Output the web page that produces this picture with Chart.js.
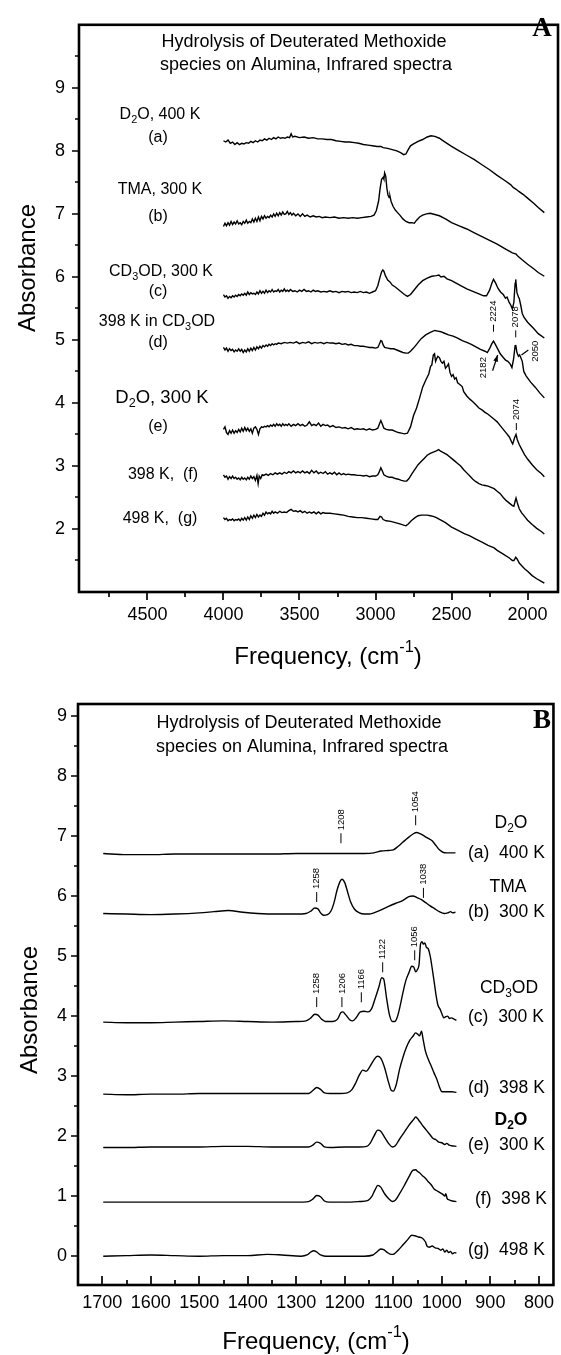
<!DOCTYPE html>
<html>
<head>
<meta charset="utf-8">
<script src="https://cdn.jsdelivr.net/npm/chart.js@4.4.0/dist/chart.umd.min.js"></script>
<style>
  html, body { margin: 0; padding: 0; background: #fff; }
  canvas { position: absolute; left: 0; }
  #chartA { top: 0; }
  #chartB { top: 680px; }
</style>
</head>
<body>
<canvas id="chartA" width="561" height="680"></canvas>
<canvas id="chartB" width="561" height="675"></canvas>
<script>
const FONT = '"Liberation Sans", Arial, Helvetica, sans-serif';
const SERIF = '"Liberation Serif", "Times New Roman", serif';

// ---- panel A: high frequency region, [frequency cm-1, absorbance] ----
const specA_a = [[4000,8.16],[3985,8.14],[3970,8.17],[3955,8.12],[3940,8.14],[3925,8.10],[3910,8.13],[3895,8.10],[3880,8.12],[3865,8.11],[3850,8.13],[3835,8.12],[3820,8.15],[3805,8.13],[3790,8.16],[3775,8.14],[3760,8.17],[3745,8.16],[3730,8.19],[3715,8.17],[3700,8.20],[3685,8.18],[3670,8.21],[3655,8.19],[3640,8.22],[3625,8.20],[3610,8.21],[3595,8.20],[3580,8.22],[3565,8.21],[3555,8.27],[3545,8.22],[3530,8.23],[3500,8.21],[3470,8.22],[3440,8.20],[3410,8.21],[3380,8.19],[3350,8.19],[3320,8.18],[3290,8.18],[3260,8.16],[3230,8.15],[3200,8.14],[3170,8.14],[3140,8.13],[3110,8.12],[3080,8.10],[3050,8.09],[3020,8.08],[2990,8.07],[2965,8.07],[2950,8.05],[2920,8.04],[2890,8.02],[2860,8.00],[2835,7.97],[2815,7.94],[2800,7.95],[2785,8.02],[2770,8.08],[2750,8.11],[2720,8.15],[2690,8.18],[2660,8.22],[2635,8.24],[2610,8.23],[2580,8.20],[2550,8.15],[2500,8.07],[2450,8.00],[2400,7.93],[2350,7.86],[2300,7.78],[2250,7.70],[2200,7.61],[2150,7.53],[2110,7.46],[2095,7.42],[2075,7.39],[2060,7.36],[2030,7.31],[2000,7.25],[1960,7.17],[1930,7.10],[1890,7.02]];
const specA_b = [[4000,6.80],[3990,6.85],[3980,6.81],[3970,6.86],[3960,6.82],[3950,6.88],[3940,6.83],[3930,6.87],[3920,6.84],[3910,6.89],[3900,6.84],[3890,6.86],[3880,6.83],[3870,6.88],[3860,6.85],[3850,6.90],[3840,6.85],[3830,6.88],[3820,6.86],[3810,6.92],[3800,6.87],[3790,6.93],[3780,6.88],[3770,6.95],[3760,6.89],[3750,6.96],[3740,6.92],[3730,6.97],[3720,6.93],[3710,6.96],[3700,6.94],[3690,6.98],[3680,6.95],[3670,7.00],[3660,6.96],[3650,7.01],[3640,6.97],[3630,7.02],[3620,6.98],[3610,7.03],[3600,6.99],[3590,7.00],[3580,7.04],[3570,6.99],[3560,7.02],[3550,6.98],[3540,7.01],[3525,6.97],[3510,7.00],[3495,6.96],[3480,7.00],[3465,6.96],[3450,6.98],[3430,6.95],[3410,6.97],[3390,6.95],[3370,6.96],[3350,6.94],[3330,6.95],[3300,6.94],[3270,6.95],[3240,6.93],[3210,6.94],[3180,6.93],[3150,6.94],[3120,6.93],[3090,6.94],[3060,6.95],[3030,6.96],[3010,6.98],[2995,7.05],[2980,7.20],[2970,7.40],[2960,7.55],[2950,7.58],[2945,7.55],[2940,7.65],[2933,7.60],[2925,7.40],[2918,7.30],[2910,7.26],[2905,7.28],[2898,7.20],[2885,7.12],[2870,7.06],[2855,7.02],[2840,6.98],[2820,6.92],[2800,6.88],[2780,6.86],[2760,6.86],[2745,6.85],[2730,6.90],[2710,6.95],[2690,6.98],[2665,7.00],[2640,7.01],[2610,6.99],[2580,6.97],[2540,6.92],[2500,6.86],[2450,6.81],[2400,6.76],[2350,6.70],[2300,6.64],[2250,6.58],[2200,6.52],[2150,6.45],[2100,6.38],[2075,6.36],[2065,6.33],[2030,6.26],[2000,6.20],[1960,6.13],[1930,6.07],[1890,6.01]];
const specA_c = [[4000,5.72],[3990,5.68],[3980,5.70],[3970,5.66],[3960,5.69],[3950,5.67],[3940,5.70],[3930,5.68],[3920,5.71],[3910,5.69],[3900,5.72],[3890,5.70],[3880,5.73],[3870,5.71],[3860,5.74],[3850,5.71],[3840,5.76],[3830,5.72],[3820,5.75],[3810,5.73],[3800,5.74],[3790,5.72],[3780,5.76],[3770,5.73],[3760,5.78],[3750,5.74],[3740,5.77],[3730,5.74],[3720,5.79],[3710,5.75],[3700,5.78],[3690,5.76],[3680,5.80],[3670,5.76],[3660,5.78],[3650,5.77],[3640,5.80],[3630,5.76],[3620,5.79],[3610,5.77],[3600,5.81],[3590,5.77],[3580,5.79],[3570,5.77],[3560,5.80],[3545,5.77],[3530,5.78],[3515,5.76],[3500,5.79],[3485,5.77],[3470,5.80],[3455,5.77],[3440,5.78],[3425,5.76],[3410,5.79],[3395,5.77],[3380,5.78],[3360,5.76],[3340,5.77],[3320,5.76],[3300,5.78],[3280,5.76],[3260,5.77],[3240,5.75],[3220,5.77],[3200,5.76],[3180,5.77],[3160,5.75],[3140,5.76],[3120,5.75],[3100,5.77],[3080,5.75],[3060,5.76],[3040,5.74],[3020,5.76],[3000,5.78],[2985,5.86],[2970,6.00],[2960,6.08],[2952,6.11],[2945,6.09],[2935,6.02],[2920,5.95],[2905,5.92],[2890,5.87],[2870,5.84],[2850,5.80],[2830,5.76],[2810,5.72],[2790,5.69],[2770,5.72],[2750,5.78],[2720,5.87],[2690,5.94],[2660,5.98],[2630,6.01],[2600,6.02],[2583,6.03],[2570,6.00],[2550,6.01],[2530,5.97],[2500,5.94],[2470,5.90],[2440,5.86],[2400,5.81],[2360,5.77],[2320,5.73],[2290,5.70],[2270,5.70],[2250,5.79],[2235,5.90],[2224,5.96],[2210,5.90],[2195,5.82],[2178,5.76],[2160,5.72],[2145,5.66],[2135,5.68],[2122,5.60],[2110,5.55],[2100,5.49],[2090,5.60],[2082,5.90],[2078,5.96],[2070,5.75],[2060,5.68],[2055,5.66],[2045,5.55],[2035,5.42],[2024,5.36],[2000,5.28],[1960,5.18],[1930,5.10],[1890,5.03]];
const specA_d = [[4000,4.88],[3990,4.84],[3980,4.87],[3970,4.82],[3960,4.86],[3950,4.83],[3940,4.85],[3930,4.81],[3920,4.84],[3910,4.82],[3900,4.86],[3890,4.82],[3880,4.85],[3870,4.80],[3860,4.84],[3850,4.81],[3840,4.86],[3830,4.82],[3820,4.87],[3810,4.83],[3800,4.88],[3790,4.84],[3780,4.89],[3770,4.86],[3760,4.90],[3750,4.87],[3740,4.91],[3730,4.89],[3720,4.92],[3710,4.90],[3700,4.93],[3690,4.91],[3680,4.94],[3670,4.92],[3660,4.94],[3650,4.93],[3640,4.95],[3620,4.94],[3600,4.96],[3580,4.95],[3560,4.96],[3540,4.95],[3520,4.97],[3500,4.94],[3480,4.96],[3460,4.95],[3440,4.97],[3420,4.94],[3400,4.96],[3380,4.95],[3360,4.96],[3340,4.94],[3320,4.96],[3300,4.95],[3280,4.95],[3260,4.94],[3240,4.95],[3220,4.93],[3200,4.94],[3180,4.92],[3160,4.93],[3140,4.91],[3120,4.91],[3100,4.90],[3080,4.90],[3060,4.89],[3040,4.88],[3020,4.88],[3000,4.87],[2985,4.88],[2975,4.93],[2965,4.99],[2958,4.98],[2950,4.92],[2940,4.88],[2920,4.87],[2900,4.86],[2880,4.86],[2860,4.84],[2840,4.82],[2820,4.80],[2800,4.79],[2785,4.79],[2770,4.82],[2750,4.87],[2730,4.93],[2700,5.02],[2670,5.08],[2640,5.12],[2610,5.15],[2590,5.14],[2570,5.13],[2550,5.11],[2520,5.08],[2490,5.06],[2460,5.03],[2430,4.99],[2400,4.96],[2370,4.93],[2340,4.89],[2310,4.85],[2280,4.82],[2265,4.80],[2250,4.86],[2235,4.94],[2224,4.98],[2212,4.93],[2195,4.85],[2180,4.78],[2160,4.72],[2145,4.68],[2130,4.66],[2115,4.62],[2103,4.56],[2092,4.70],[2082,4.91],[2078,4.92],[2070,4.80],[2060,4.74],[2052,4.76],[2045,4.72],[2035,4.66],[2025,4.50],[2010,4.43],[1980,4.33],[1950,4.25],[1920,4.16],[1890,4.08]];
const specA_e = [[4000,3.58],[3990,3.62],[3980,3.53],[3970,3.50],[3960,3.56],[3950,3.52],[3940,3.57],[3930,3.52],[3920,3.56],[3910,3.53],[3900,3.58],[3890,3.54],[3880,3.60],[3870,3.55],[3860,3.61],[3850,3.56],[3840,3.60],[3830,3.55],[3820,3.59],[3810,3.52],[3800,3.60],[3790,3.62],[3780,3.58],[3770,3.50],[3760,3.59],[3750,3.62],[3740,3.61],[3730,3.63],[3720,3.62],[3710,3.64],[3700,3.62],[3690,3.65],[3680,3.63],[3670,3.66],[3660,3.63],[3650,3.67],[3640,3.64],[3630,3.66],[3620,3.63],[3610,3.67],[3600,3.64],[3590,3.66],[3580,3.64],[3570,3.67],[3555,3.63],[3540,3.66],[3525,3.64],[3510,3.67],[3495,3.64],[3480,3.66],[3465,3.63],[3450,3.65],[3435,3.70],[3420,3.64],[3405,3.66],[3390,3.64],[3375,3.68],[3360,3.63],[3345,3.66],[3330,3.64],[3315,3.65],[3300,3.62],[3280,3.64],[3260,3.61],[3240,3.62],[3220,3.60],[3200,3.61],[3180,3.59],[3160,3.61],[3140,3.58],[3120,3.59],[3100,3.58],[3080,3.59],[3060,3.57],[3040,3.59],[3020,3.57],[3000,3.58],[2985,3.60],[2975,3.66],[2965,3.72],[2955,3.66],[2945,3.60],[2930,3.58],[2910,3.57],[2890,3.57],[2870,3.55],[2850,3.53],[2830,3.52],[2810,3.51],[2790,3.52],[2770,3.62],[2750,3.80],[2730,3.92],[2710,4.08],[2690,4.25],[2670,4.36],[2650,4.46],[2638,4.58],[2630,4.60],[2620,4.76],[2612,4.78],[2605,4.66],[2598,4.70],[2590,4.74],[2580,4.72],[2570,4.66],[2560,4.63],[2550,4.66],[2540,4.55],[2530,4.58],[2520,4.62],[2510,4.48],[2500,4.42],[2490,4.45],[2480,4.38],[2470,4.40],[2460,4.32],[2450,4.30],[2440,4.28],[2430,4.26],[2420,4.18],[2400,4.11],[2380,4.06],[2360,4.02],[2340,3.97],[2320,3.92],[2300,3.89],[2280,3.85],[2260,3.82],[2240,3.78],[2220,3.74],[2200,3.70],[2180,3.64],[2160,3.58],[2140,3.52],[2120,3.46],[2105,3.38],[2098,3.35],[2085,3.45],[2076,3.50],[2068,3.42],[2055,3.34],[2040,3.27],[2020,3.18],[2000,3.11],[1970,3.02],[1940,2.94],[1910,2.88],[1890,2.83]];
const specA_f = [[4000,2.86],[3990,2.82],[3980,2.84],[3970,2.79],[3960,2.83],[3950,2.80],[3940,2.84],[3930,2.80],[3920,2.82],[3910,2.79],[3900,2.81],[3890,2.78],[3880,2.82],[3870,2.79],[3860,2.81],[3850,2.78],[3840,2.82],[3830,2.79],[3820,2.84],[3810,2.80],[3800,2.83],[3790,2.77],[3780,2.85],[3772,2.72],[3765,2.84],[3755,2.80],[3745,2.86],[3735,2.85],[3720,2.87],[3705,2.85],[3690,2.88],[3675,2.86],[3660,2.89],[3645,2.87],[3630,2.89],[3615,2.87],[3600,2.90],[3585,2.88],[3570,2.91],[3555,2.89],[3540,2.92],[3525,2.89],[3510,2.91],[3495,2.89],[3480,2.92],[3465,2.89],[3450,2.91],[3435,2.88],[3420,2.93],[3405,2.89],[3390,2.92],[3375,2.88],[3360,2.90],[3345,2.88],[3330,2.91],[3315,2.87],[3300,2.89],[3285,2.87],[3270,2.90],[3255,2.86],[3240,2.89],[3225,2.86],[3210,2.88],[3195,2.86],[3180,2.87],[3160,2.86],[3140,2.86],[3120,2.85],[3100,2.85],[3080,2.84],[3060,2.85],[3040,2.83],[3020,2.84],[3000,2.84],[2985,2.86],[2975,2.91],[2965,2.97],[2955,2.92],[2945,2.86],[2930,2.84],[2910,2.82],[2890,2.82],[2870,2.80],[2850,2.79],[2830,2.77],[2810,2.76],[2795,2.76],[2780,2.80],[2760,2.88],[2740,2.95],[2720,3.02],[2700,3.07],[2680,3.12],[2660,3.17],[2640,3.20],[2620,3.22],[2600,3.24],[2585,3.26],[2575,3.24],[2560,3.22],[2545,3.20],[2530,3.18],[2515,3.15],[2500,3.12],[2480,3.08],[2460,3.04],[2440,3.00],[2420,2.94],[2400,2.89],[2380,2.84],[2360,2.79],[2340,2.75],[2320,2.72],[2300,2.70],[2280,2.69],[2260,2.68],[2240,2.66],[2220,2.64],[2200,2.60],[2180,2.56],[2160,2.50],[2140,2.45],[2120,2.41],[2100,2.37],[2090,2.36],[2082,2.44],[2076,2.49],[2068,2.42],[2055,2.32],[2040,2.26],[2020,2.20],[2000,2.14],[1970,2.07],[1940,2.01],[1910,1.96],[1890,1.92]];
const specA_g = [[4000,2.18],[3990,2.15],[3980,2.17],[3970,2.13],[3960,2.15],[3950,2.14],[3940,2.16],[3930,2.13],[3920,2.15],[3910,2.14],[3900,2.16],[3890,2.13],[3880,2.17],[3870,2.14],[3860,2.18],[3850,2.14],[3840,2.19],[3830,2.15],[3820,2.21],[3810,2.17],[3800,2.22],[3790,2.18],[3780,2.23],[3770,2.19],[3760,2.22],[3750,2.20],[3740,2.25],[3730,2.22],[3720,2.27],[3710,2.24],[3700,2.26],[3690,2.24],[3680,2.28],[3670,2.25],[3660,2.27],[3645,2.25],[3630,2.28],[3615,2.26],[3600,2.27],[3585,2.26],[3570,2.29],[3555,2.31],[3540,2.28],[3525,2.29],[3510,2.27],[3495,2.29],[3480,2.26],[3465,2.28],[3450,2.25],[3435,2.27],[3420,2.25],[3405,2.27],[3390,2.24],[3375,2.27],[3360,2.24],[3345,2.26],[3330,2.25],[3300,2.25],[3270,2.24],[3240,2.23],[3210,2.22],[3180,2.20],[3150,2.19],[3120,2.18],[3090,2.18],[3060,2.17],[3030,2.16],[3000,2.15],[2985,2.15],[2970,2.20],[2960,2.19],[2950,2.15],[2930,2.13],[2900,2.12],[2870,2.10],[2840,2.08],[2815,2.06],[2800,2.05],[2785,2.08],[2765,2.13],[2740,2.18],[2720,2.21],[2700,2.22],[2680,2.22],[2660,2.22],[2640,2.21],[2620,2.20],[2600,2.18],[2570,2.14],[2540,2.10],[2500,2.03],[2460,1.98],[2420,1.93],[2380,1.89],[2340,1.84],[2300,1.79],[2260,1.74],[2240,1.72],[2220,1.70],[2200,1.66],[2160,1.60],[2120,1.54],[2100,1.50],[2090,1.50],[2078,1.55],[2068,1.52],[2055,1.46],[2040,1.42],[2020,1.37],[2000,1.33],[1970,1.26],[1940,1.21],[1910,1.17],[1890,1.14]];

// ---- panel B: low frequency region ----
const specB_a = [[1698,6.71],[1650,6.69],[1600,6.69],[1550,6.70],[1500,6.70],[1450,6.70],[1400,6.70],[1350,6.70],[1300,6.71],[1250,6.71],[1200,6.71],[1160,6.71],[1140,6.72],[1125,6.75],[1110,6.76],[1100,6.77],[1090,6.83],[1080,6.90],[1070,6.97],[1060,7.03],[1052,7.06],[1045,7.04],[1036,7.00],[1028,6.96],[1020,6.92],[1012,6.84],[1005,6.77],[998,6.73],[990,6.72],[980,6.72],[972,6.72]];
const specB_b = [[1698,5.71],[1650,5.70],[1600,5.69],[1550,5.70],[1500,5.72],[1470,5.74],[1440,5.76],[1410,5.73],[1380,5.71],[1340,5.70],[1300,5.70],[1280,5.71],[1270,5.75],[1262,5.80],[1256,5.79],[1250,5.72],[1244,5.68],[1236,5.69],[1228,5.76],[1222,5.90],[1216,6.10],[1210,6.24],[1206,6.28],[1200,6.22],[1194,6.06],[1188,5.90],[1180,5.78],[1170,5.72],[1160,5.70],[1150,5.70],[1140,5.72],[1125,5.77],[1110,5.83],[1095,5.88],[1080,5.93],[1068,5.99],[1060,6.00],[1050,5.97],[1042,5.94],[1035,5.90],[1025,5.84],[1015,5.79],[1005,5.74],[995,5.71],[988,5.72],[982,5.74],[978,5.72],[972,5.73]];
const specB_c = [[1698,3.90],[1650,3.89],[1600,3.89],[1550,3.90],[1500,3.91],[1450,3.92],[1400,3.91],[1350,3.90],[1300,3.91],[1280,3.92],[1270,3.97],[1262,4.03],[1256,4.02],[1248,3.95],[1240,3.91],[1225,3.91],[1215,3.95],[1208,4.06],[1204,4.07],[1198,4.02],[1190,3.94],[1184,3.92],[1176,3.98],[1168,4.07],[1160,4.08],[1152,4.07],[1145,4.12],[1138,4.28],[1130,4.48],[1124,4.64],[1120,4.62],[1114,4.30],[1108,4.02],[1102,3.91],[1097,3.91],[1092,3.98],[1086,4.17],[1080,4.40],[1074,4.60],[1068,4.72],[1062,4.83],[1058,4.82],[1054,4.74],[1050,4.78],[1047,4.86],[1044,5.20],[1041,5.24],[1038,5.20],[1035,5.22],[1032,5.15],[1028,5.12],[1024,5.00],[1020,4.80],[1016,4.58],[1012,4.35],[1008,4.18],[1004,4.12],[1000,4.04],[996,3.97],[992,3.99],[988,4.00],[984,3.96],[980,3.97],[975,3.95],[970,3.93]];
const specB_d = [[1698,2.70],[1650,2.69],[1600,2.70],[1550,2.70],[1500,2.71],[1450,2.71],[1400,2.71],[1350,2.71],[1300,2.71],[1275,2.71],[1266,2.76],[1258,2.81],[1250,2.78],[1242,2.72],[1230,2.71],[1210,2.71],[1195,2.72],[1185,2.78],[1178,2.88],[1170,3.02],[1163,3.10],[1156,3.08],[1149,3.15],[1140,3.27],[1133,3.33],[1126,3.30],[1118,3.14],[1110,2.90],[1104,2.76],[1100,2.75],[1094,2.86],[1087,3.12],[1080,3.32],[1073,3.48],[1066,3.60],[1060,3.66],[1054,3.72],[1050,3.70],[1046,3.67],[1042,3.75],[1039,3.63],[1034,3.42],[1028,3.28],[1022,3.17],[1016,3.05],[1010,2.94],[1005,2.82],[1000,2.74],[990,2.74],[980,2.74],[970,2.73]];
const specB_e = [[1698,1.81],[1650,1.81],[1600,1.82],[1550,1.82],[1500,1.82],[1450,1.83],[1400,1.83],[1350,1.82],[1300,1.82],[1275,1.82],[1266,1.85],[1258,1.90],[1250,1.88],[1242,1.82],[1230,1.81],[1200,1.82],[1170,1.82],[1155,1.83],[1148,1.88],[1140,2.00],[1132,2.10],[1126,2.08],[1118,1.98],[1110,1.88],[1102,1.82],[1096,1.84],[1088,1.94],[1078,2.06],[1068,2.18],[1058,2.28],[1054,2.32],[1048,2.27],[1040,2.18],[1032,2.10],[1024,2.02],[1018,1.96],[1012,1.94],[1006,1.90],[1000,1.89],[994,1.86],[990,1.88],[985,1.85],[980,1.84],[970,1.83]];
const specB_f = [[1698,0.90],[1650,0.90],[1600,0.90],[1550,0.90],[1500,0.90],[1450,0.90],[1400,0.90],[1350,0.90],[1300,0.90],[1275,0.91],[1266,0.95],[1258,1.01],[1250,0.99],[1242,0.92],[1232,0.90],[1200,0.90],[1170,0.91],[1152,0.93],[1144,1.00],[1138,1.10],[1132,1.18],[1126,1.15],[1118,1.04],[1110,0.96],[1102,0.91],[1096,0.93],[1088,1.03],[1078,1.17],[1068,1.32],[1060,1.43],[1054,1.44],[1050,1.41],[1046,1.39],[1040,1.34],[1034,1.30],[1028,1.24],[1022,1.19],[1016,1.12],[1010,1.09],[1004,1.06],[998,1.03],[994,1.00],[992,1.04],[989,0.96],[985,0.94],[978,0.92],[970,0.91]];
const specB_g = [[1698,0.00],[1650,0.01],[1600,0.02],[1550,0.01],[1500,0.00],[1450,0.01],[1400,0.01],[1360,0.03],[1330,0.02],[1290,0.00],[1278,0.02],[1270,0.07],[1264,0.09],[1258,0.07],[1250,0.02],[1240,0.00],[1200,0.00],[1160,0.00],[1142,0.02],[1134,0.07],[1126,0.12],[1120,0.11],[1112,0.06],[1104,0.03],[1098,0.04],[1090,0.10],[1080,0.19],[1070,0.28],[1062,0.35],[1056,0.34],[1048,0.32],[1040,0.30],[1034,0.24],[1030,0.16],[1026,0.15],[1020,0.17],[1014,0.14],[1008,0.13],[1002,0.10],[998,0.12],[994,0.07],[990,0.10],[986,0.06],[982,0.08],[978,0.04],[974,0.06],[970,0.05]];

// tick values
const xMajorA = [4500, 4000, 3500, 3000, 2500, 2000];
const xMinorA = [4750, 4250, 3750, 3250, 2750, 2250];
const yMajorA = [2, 3, 4, 5, 6, 7, 8, 9];
const yMinorA = [1.5, 2.5, 3.5, 4.5, 5.5, 6.5, 7.5, 8.5, 9.5];
const xMajorB = [1700, 1600, 1500, 1400, 1300, 1200, 1100, 1000, 900, 800];
const xMinorB = [1650, 1550, 1450, 1350, 1250, 1150, 1050, 950, 850];
const yMajorB = [0, 1, 2, 3, 4, 5, 6, 7, 8, 9];
const yMinorB = [0.5, 1.5, 2.5, 3.5, 4.5, 5.5, 6.5, 7.5, 8.5];

// text
const titleLines = ['Hydrolysis of Deuterated Methoxide', 'species on Alumina, Infrared spectra'];
const namesA = ['D_2O, 400 K', 'TMA, 300 K', 'CD_3OD, 300 K', '398 K in CD_3OD', 'D_2O, 300 K', '398 K,  (f)', '498 K,  (g)'];
const tagsA = ['(a)', '(b)', '(c)', '(d)', '(e)'];
const namesB = ['D_2O', 'TMA', 'CD_3OD', 'D_2O'];
const tagsB = ['(a)  400 K', '(b)  300 K', '(c)  300 K', '(d)  398 K', '(e)  300 K', '(f)  398 K', '(g)  498 K'];
const xTitle = 'Frequency, (cm^{-1})';
const yTitle = 'Absorbance';

// peak marks: label, frequency, absorbance where the dash starts
const marksA = [['2224', 2224, 5.13], ['2078', 2078, 5.04], ['2074', 2074, 3.57]];
const marksB = [['1208', 1208, 6.88], ['1054', 1054, 7.18], ['1258', 1258, 5.90], ['1038', 1038, 5.97],
                ['1258', 1258, 4.15], ['1206', 1206, 4.15], ['1166', 1166, 4.23], ['1122', 1122, 4.73], ['1056', 1056, 4.93]];

function drawRich(ctx, str, x, y, size, align, weight) {
  const parts = str.split(/(_\{[^}]*\}|\^\{[^}]*\}|_[^{])/).filter(Boolean).map(p => {
    if (p[0] === '_') return {t: p.length === 2 ? p[1] : p.slice(2, -1), m: 'sub'};
    if (p[0] === '^') return {t: p.slice(2, -1), m: 'sup'};
    return {t: p, m: ''};
  });
  const fontFor = m => `${weight || 'normal'} ${m ? size * 0.68 : size}px ${FONT}`;
  let total = 0;
  parts.forEach(p => { ctx.font = fontFor(p.m); p.w = ctx.measureText(p.t).width; total += p.w; });
  let cx = align === 'left' ? x : (align === 'right' ? x - total : x - total / 2);
  ctx.textAlign = 'left';
  ctx.textBaseline = 'middle';
  ctx.fillStyle = '#000';
  parts.forEach(p => {
    ctx.font = fontFor(p.m);
    const dy = p.m === 'sub' ? size * 0.32 : (p.m === 'sup' ? -size * 0.4 : 0);
    ctx.fillText(p.t, cx, y + dy);
    cx += p.w;
  });
}

function rotText(ctx, str, x, y, size, align) {
  ctx.save();
  ctx.translate(x, y);
  ctx.rotate(-Math.PI / 2);
  drawRich(ctx, str, 0, 0, size, align);
  ctx.restore();
}

function frame(chart, t) {
  const {ctx, chartArea: a, scales: {x, y}} = chart;
  ctx.save();
  ctx.strokeStyle = '#000';
  ctx.lineWidth = 1.7;
  ctx.beginPath();
  const dir = t.xInside ? -1 : 1;
  [[t.xMajor, t.xLen[0]], [t.xMinor, t.xLen[1]]].forEach(([vals, len]) => vals.forEach(v => {
    const px = Math.round(x.getPixelForValue(v));
    ctx.moveTo(px, a.bottom);
    ctx.lineTo(px, a.bottom + dir * len);
  }));
  [[t.yMajor, t.yLen[0]], [t.yMinor, t.yLen[1]]].forEach(([vals, len]) => vals.forEach(v => {
    const py = Math.round(y.getPixelForValue(v));
    ctx.moveTo(a.left, py);
    ctx.lineTo(a.left - len, py);
  }));
  ctx.stroke();
  ctx.lineWidth = 2.6;
  ctx.strokeRect(a.left, a.top, a.right - a.left, a.bottom - a.top);
  ctx.restore();
}

function peakMarks(chart, marks, dash, size) {
  const {ctx, scales: {x, y}} = chart;
  ctx.save();
  ctx.strokeStyle = '#000';
  ctx.lineWidth = 1;
  marks.forEach(([t, f, a]) => {
    const px = x.getPixelForValue(f), py = y.getPixelForValue(a);
    ctx.beginPath();
    ctx.moveTo(px, py);
    ctx.lineTo(px, py - dash);
    ctx.stroke();
    rotText(ctx, t, px, py - dash - 3, size, 'left');
  });
  ctx.restore();
}

function lineSet(points, smooth) {
  return {
    data: points.map(p => ({x: p[0], y: p[1]})),
    borderColor: '#000',
    borderWidth: 1.4,
    pointRadius: 0,
    fill: false,
    tension: 0,
    cubicInterpolationMode: smooth ? 'monotone' : 'default'
  };
}

const panelA = {
  id: 'panelA',
  afterDraw(chart) {
    const {ctx, scales: {x, y}} = chart;
    frame(chart, {xMajor: xMajorA, xMinor: xMinorA, yMajor: yMajorA, yMinor: yMinorA, xLen: [8, 5], yLen: [7, 4], xInside: false});
    drawRich(ctx, titleLines[0], 304, 42, 18, 'center');
    drawRich(ctx, titleLines[1], 306, 65, 18, 'center');
    ctx.font = `bold 27px ${SERIF}`;
    ctx.textAlign = 'center';
    ctx.textBaseline = 'middle';
    ctx.fillText('A', 542, 29);
    const namePos = [[160, 115, 16], [160, 190, 16], [161, 272, 16], [157, 322, 16], [162, 398, 18.5], [163, 475, 16], [160, 519, 16]];
    namesA.forEach((n, i) => drawRich(ctx, n, namePos[i][0], namePos[i][1], namePos[i][2], 'center'));
    const tagY = [138, 217, 292, 343, 427];
    tagsA.forEach((t, i) => drawRich(ctx, t, 158, tagY[i], 16, 'center'));
    drawRich(ctx, xTitle, 328, 657, 24, 'center');
    rotText(ctx, yTitle, 28, 268, 24, 'center');
    peakMarks(chart, marksA, 7, 9.5);
    // 2182 with arrow, 2050 with leader line
    ctx.save();
    ctx.strokeStyle = '#000';
    ctx.fillStyle = '#000';
    ctx.lineWidth = 1.2;
    rotText(ctx, '2182', x.getPixelForValue(2289), y.getPixelForValue(4.56), 9.5, 'center');
    const ax0 = x.getPixelForValue(2230), ay0 = y.getPixelForValue(4.51);
    const ax1 = x.getPixelForValue(2197), ay1 = y.getPixelForValue(4.76);
    ctx.beginPath(); ctx.moveTo(ax0, ay0); ctx.lineTo(ax1, ay1); ctx.stroke();
    const ang = Math.atan2(ay1 - ay0, ax1 - ax0);
    ctx.beginPath();
    ctx.moveTo(ax1, ay1);
    ctx.lineTo(ax1 - 7 * Math.cos(ang - 0.35), ay1 - 7 * Math.sin(ang - 0.35));
    ctx.lineTo(ax1 - 7 * Math.cos(ang + 0.35), ay1 - 7 * Math.sin(ang + 0.35));
    ctx.closePath(); ctx.fill();
    rotText(ctx, '2050', x.getPixelForValue(1947), y.getPixelForValue(4.82), 9.5, 'center');
    ctx.beginPath();
    ctx.moveTo(x.getPixelForValue(2040), y.getPixelForValue(4.76));
    ctx.lineTo(x.getPixelForValue(1995), y.getPixelForValue(4.84));
    ctx.stroke();
    ctx.restore();
  }
};

const panelB = {
  id: 'panelB',
  afterDraw(chart) {
    const {ctx} = chart;
    frame(chart, {xMajor: xMajorB, xMinor: xMinorB, yMajor: yMajorB, yMinor: yMinorB, xLen: [9, 5], yLen: [7, 4], xInside: true});
    drawRich(ctx, titleLines[0], 299, 43, 18, 'center');
    drawRich(ctx, titleLines[1], 302, 67, 18, 'center');
    ctx.font = `bold 27px ${SERIF}`;
    ctx.textAlign = 'center';
    ctx.textBaseline = 'middle';
    ctx.fillText('B', 542, 41);
    const namePos = [[511, 143], [508, 207], [509, 308], [511, 440]];
    namesB.forEach((n, i) => drawRich(ctx, n, namePos[i][0], namePos[i][1], 17.5, 'center', i === 3 ? 'bold' : 'normal'));
    const tagPos = [[468, 173], [468, 232], [468, 337], [468, 408], [468, 465], [475, 519], [468, 570]];
    tagsB.forEach((t, i) => drawRich(ctx, t, tagPos[i][0], tagPos[i][1], 17.5, 'left'));
    drawRich(ctx, xTitle, 316, 662, 24, 'center');
    rotText(ctx, yTitle, 30, 330, 24, 'center');
    peakMarks(chart, marksB, 10, 9.5);
  }
};

function makeChart(id, specs, smooth, sc, plugin) {
  return new Chart(document.getElementById(id), {
    type: 'line',
    data: {datasets: specs.map(s => lineSet(s, smooth))},
    options: {
      responsive: false,
      animation: false,
      events: [],
      layout: {padding: {top: sc.top, right: 3, left: 0, bottom: 0}},
      plugins: {legend: {display: false}, tooltip: {enabled: false}},
      scales: {
        x: {
          type: 'linear', reverse: true, min: sc.xMin, max: sc.xMax,
          afterBuildTicks: ax => { ax.ticks = sc.xTicks.map(v => ({value: v})); },
          afterFit: ax => { ax.height = sc.xH; },
          grid: {display: false, drawTicks: false},
          border: {display: false},
          ticks: {autoSkip: false, maxRotation: 0, padding: sc.xPad, color: '#000',
                  font: {family: FONT, size: 18}, callback: v => String(v)}
        },
        y: {
          type: 'linear', min: sc.yMin, max: sc.yMax,
          afterBuildTicks: ax => { ax.ticks = sc.yTicks.map(v => ({value: v})); },
          afterFit: ax => { ax.width = sc.yW; },
          grid: {display: false, drawTicks: false},
          border: {display: false},
          ticks: {autoSkip: false, padding: sc.yPad, color: '#000',
                  font: {family: FONT, size: 18}, callback: v => String(v)}
        }
      }
    },
    plugins: [plugin]
  });
}

makeChart('chartA', [specA_a, specA_b, specA_c, specA_d, specA_e, specA_f, specA_g], false,
  {top: 15, xMin: 1800, xMax: 4950, yMin: 1, yMax: 10, xTicks: xMajorA, yTicks: yMajorA, xH: 88, yW: 79, xPad: 12, yPad: 14}, panelA);

makeChart('chartB', [specB_a, specB_b, specB_c, specB_d, specB_e, specB_f, specB_g], true,
  {top: 24, xMin: 770, xMax: 1750, yMin: -0.48, yMax: 9.2, xTicks: xMajorB, yTicks: yMajorB, xH: 70, yW: 78, xPad: 7, yPad: 11}, panelB);
</script>
</body>
</html>
